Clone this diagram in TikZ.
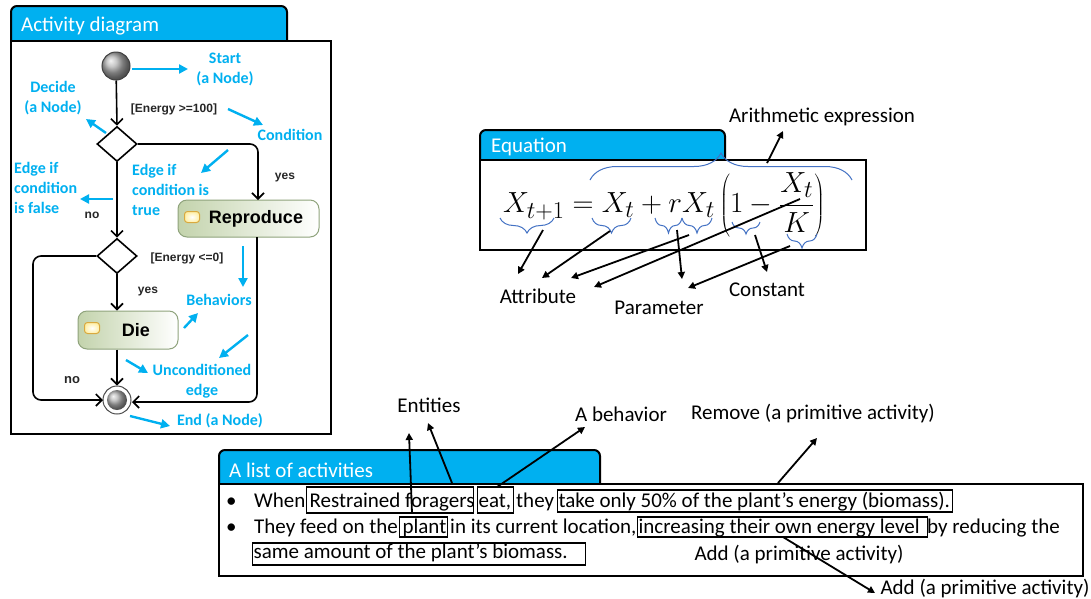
\documentclass[tikz,border=0pt]{standalone}
\usepackage[no-math]{fontspec}
\setmainfont{Carlito}
\newfontfamily\arialfont{Liberation Sans}
\usetikzlibrary{arrows.meta,shapes.geometric,decorations.pathreplacing}
\definecolor{tabblue}{HTML}{00B0F0}
\definecolor{bracblue}{HTML}{4472C4}
\definecolor{activeedge}{HTML}{8FA37C}
\definecolor{activefill}{HTML}{C3D3AC}
\definecolor{iconedge}{HTML}{D9A93F}
\definecolor{iconfill}{HTML}{FFEFA6}
\tikzset{
  tabbox/.style={draw=black,line width=2pt,fill=tabblue,rounded corners=6},
  framebox/.style={draw=black,line width=2pt,fill=white},
  tabtext/.style={anchor=west,inner sep=0pt,text=white,font=\fontsize{21}{24}\selectfont},
  note/.style={inner sep=0pt,align=center,text=black,font=\fontsize{21}{25}\selectfont},
  cyanote/.style={inner sep=0pt,align=center,text=tabblue,font=\fontsize{16}{20}\selectfont\bfseries},
  cyanleft/.style={cyanote,align=left,anchor=west},
  guard/.style={inner sep=0pt,font=\fontsize{12}{14}\selectfont\arialfont\bfseries,text=black!85},
  flow/.style={draw=black,line width=1.6pt,-{Straight Barb[length=6pt,width=12pt]}},
  decide/.style={diamond,draw=black,line width=1.6pt,fill=white,minimum width=40,minimum height=35,inner sep=0pt},
  action/.style={draw=activeedge,line width=1pt,rounded corners=9,left color=activefill,right color=white,font=\fontsize{18}{20}\selectfont\arialfont\bfseries},
  icon/.style={draw=iconedge,line width=1pt,rounded corners=3,inner color=white,outer color=iconfill,minimum width=15,minimum height=11,inner sep=0pt},
  cyanarrow/.style={draw=tabblue,line width=2.4pt,-{Triangle[length=9pt,width=9pt]}},
  blackarrow/.style={draw=black,line width=1.8pt,-{Triangle[length=7pt,width=7pt]}},
  brc/.style={draw=bracblue,line width=1pt,decorate,decoration={brace,amplitude=#1}},
  brcdown/.style={draw=bracblue,line width=1pt,decorate,decoration={brace,mirror,amplitude=#1}},
  listtext/.style={anchor=base west,inner sep=0pt,font=\fontsize{21}{25}\selectfont},
  markbox/.style={draw=black,line width=1.2pt,anchor=west,inner sep=0pt,text depth=4pt,text height=#1,font=\fontsize{21}{25}\selectfont}
}
\begin{document}
\begin{tikzpicture}[x=1pt,y=-1pt]
    \useasboundingbox (0,0) rectangle (1091,598);

    % activity diagram
    \draw[tabbox] (11,41) -- (11,6) -- (287,6) -- (287,41);
    \draw[framebox] (11,41) rectangle (331,434);
    \node[tabtext] (activityTitle) at (21,26) {Activity diagram};

    \shade[ball color=black!30] (116,66) circle (14);
    \node[circle,draw=black!75,line width=1pt,minimum size=28,inner sep=0pt] (start) at (116,66) {};
    \node[decide] (decideOne) at (117,144) {};
    \node[decide] (decideTwo) at (117,256) {};
    \node[action,minimum width=141,minimum height=37] (reproduce) at (248.5,218.5) {\hspace*{15pt}Reproduce};
    \node[action,minimum width=100,minimum height=38] (die) at (128,330) {\hspace*{16pt}Die};
    \node[icon] (reproduceIcon) at (192,217) {};
    \node[icon] (dieIcon) at (92,328) {};
    \node[circle,draw=black!70,line width=1pt,fill=white,minimum size=28,inner sep=0pt] (end) at (117,400) {};
    \shade[ball color=black!30] (117,400) circle (10);

    \coordinate (yesIn) at (258,200);
    \coordinate (yesOut) at (257,237);
    \coordinate (endRight) at (132,402);
    \coordinate (noTop) at (33,256);
    \coordinate (noBottom) at (33,400);
    \coordinate (endLeft) at (103,400);

    \draw[flow] (start) -- (decideOne.north);
    \draw[flow] (decideOne.south) -- (decideTwo.north);
    \draw[flow] (decideTwo.south) -- (die.north -| decideTwo);
    \draw[flow] (die.south -| decideTwo) -- (end.north);
    \draw[flow,rounded corners=8] (decideOne.east) -| (yesIn);
    \draw[flow,rounded corners=8] (yesOut) |- (endRight);
    \draw[flow,rounded corners=8] (decideTwo.west) -- (noTop) -- (noBottom) -- (endLeft);

    \node[guard] (guardHigh) at (174,109) {[Energy >=100]};
    \node[guard] (guardLow) at (187,258) {[Energy <=0]};
    \node[guard] (yesOne) at (285,178) {yes};
    \node[guard] (noOne) at (92,215) {no};
    \node[guard] (yesTwo) at (148,292) {yes};
    \node[guard,font=\fontsize{13}{15}\selectfont\arialfont\bfseries] (noTwo) at (72,380) {no};

    \node[cyanote] (startNote) at (225,69) {Start\\(a Node)};
    \node[cyanote] (decideNote) at (53,98) {Decide\\(a Node)};
    \node[cyanote] (conditionNote) at (290,135) {Condition};
    \node[cyanleft] (trueNote) at (132,190) {Edge if\\condition is\\true};
    \node[cyanleft] (falseNote) at (14,188) {Edge if\\condition\\is false};
    \node[cyanote] (behaviorNote) at (219,300) {Behaviors};
    \node[cyanote] (edgeNote) at (202,381) {Unconditioned\\edge};
    \node[cyanote] (endNote) at (220,421) {End (a Node)};

    \coordinate (c1a) at (132,69); \coordinate (c1b) at (188,69);
    \coordinate (c2a) at (106,133); \coordinate (c2b) at (86,119);
    \coordinate (c3a) at (228,109); \coordinate (c3b) at (263,125);
    \coordinate (c4a) at (228,150); \coordinate (c4b) at (201,173);
    \coordinate (c5a) at (113,199); \coordinate (c5b) at (80,199);
    \coordinate (c6a) at (243,246); \coordinate (c6b) at (243,287);
    \coordinate (c7a) at (184,328); \coordinate (c7b) at (198,313);
    \coordinate (c8a) at (248,335); \coordinate (c8b) at (219,358);
    \coordinate (c9a) at (126,360); \coordinate (c9b) at (148,373);
    \coordinate (c10a) at (130,416); \coordinate (c10b) at (170,426);
    \draw[cyanarrow] (c1a) -- (c1b);
    \draw[cyanarrow] (c2a) -- (c2b);
    \draw[cyanarrow] (c3a) -- (c3b);
    \draw[cyanarrow] (c4a) -- (c4b);
    \draw[cyanarrow] (c5a) -- (c5b);
    \draw[cyanarrow] (c6a) -- (c6b);
    \draw[cyanarrow] (c7a) -- (c7b);
    \draw[cyanarrow] (c8a) -- (c8b);
    \draw[cyanarrow] (c9a) -- (c9b);
    \draw[cyanarrow] (c10a) -- (c10b);

    % equation
    \draw[tabbox] (480,160) -- (480,130) -- (725,130) -- (725,160);
    \draw[framebox] (480,160) rectangle (866,250);
    \node[tabtext] (equationTitle) at (491,147) {Equation};
    \node[inner sep=0pt,scale=1.17,transform shape,font=\fontsize{24.88}{30}\selectfont] (equation) at (664,205)
        {$\displaystyle X_{t+1}=X_t+rX_t\left(1-\frac{X_t}{K}\right)$};

    \draw[brc=27] (590,180) -- (852,180);
    \draw[brcdown=15] (500,218) -- (554,218);
    \draw[brcdown=15] (592,218) -- (631,218);
    \draw[brcdown=15] (655,218) -- (682,218);
    \draw[brcdown=15] (682,218) -- (712,218);
    \draw[brcdown=12] (732,222) -- (760,222);
    \draw[brcdown=14] (787,234) -- (817,234);

    \node[note] (arithNote) at (822,117) {Arithmetic expression};
    \node[note] (attributeNote) at (538,296) {Attribute};
    \node[note] (parameterNote) at (659,308) {Parameter};
    \node[note] (constantNote) at (767,290) {Constant};

    \coordinate (e1a) at (767,163); \coordinate (e1b) at (783,131);
    \coordinate (e2a) at (543,230); \coordinate (e2b) at (518,274);
    \coordinate (e3a) at (610,231); \coordinate (e3b) at (542,278);
    \coordinate (e4a) at (689,235); \coordinate (e4b) at (571,278);
    \coordinate (e5a) at (800,199); \coordinate (e5b) at (594,287);
    \coordinate (e6a) at (677,230); \coordinate (e6b) at (682,279);
    \coordinate (e7a) at (755,235); \coordinate (e7b) at (767,272);
    \coordinate (e8a) at (790,246); \coordinate (e8b) at (688,288);
    \draw[blackarrow] (e1a) -- (e1b);
    \draw[blackarrow] (e2a) -- (e2b);
    \draw[blackarrow] (e3a) -- (e3b);
    \draw[blackarrow] (e4a) -- (e4b);
    \draw[blackarrow] (e5a) -- (e5b);
    \draw[blackarrow] (e6a) -- (e6b);
    \draw[blackarrow] (e7a) -- (e7b);
    \draw[blackarrow] (e8a) -- (e8b);

    % list of activities
    \draw[tabbox] (219,484) -- (219,450) -- (600,450) -- (600,484);
    \draw[framebox] (219,484) rectangle (1083,576);
    \node[tabtext] (listTitle) at (229,470) {A list of activities};

    \node[listtext] (bulletOne) at (226,507) {•};
    \node[listtext] (bulletTwo) at (226,533) {•};
    \node[listtext] (lineOne) at (254,507) {When};
    \node[markbox=18pt,minimum height=26] (foragers) at (306,500) {\makebox[167pt][l]{\hspace*{3pt}Restrained foragers}};
    \node[markbox=18pt,minimum height=26] (eat) at (477,500) {\makebox[36pt][l]{\hspace*{1pt}eat,}};
    \node[listtext] (they) at (516,507) {they};
    \node[markbox=16pt,minimum height=22] (takeOnly) at (557,501) {\makebox[395pt][l]{\hspace*{1pt}take only 50\% of the plant's energy (biomass).}};
    \node[listtext] (lineTwo) at (254,533) {They feed on the};
    \node[markbox=16pt,minimum height=20] (plant) at (399,527) {\makebox[48pt][l]{\hspace*{3pt}plant}};
    \node[listtext] (location) at (450,533) {in its current location,};
    \node[markbox=16pt,minimum height=19] (increase) at (637,527) {\makebox[290pt][l]{\hspace*{1pt}increasing their own energy level}};
    \node[listtext] (reducing) at (927,533) {by reducing the};
    \node[markbox=12pt,minimum height=22] (sameAmount) at (252,554) {\makebox[333pt][l]{\hspace*{1pt}same amount of the plant's biomass.}};

    \node[note] (entitiesNote) at (429,405) {Entities};
    \node[note] (behaviorLabel) at (621,414) {A behavior};
    \node[note] (removeNote) at (813,414) {Remove (a primitive activity)};
    \node[note] (addNote) at (799,554) {Add (a primitive activity)};
    \node[note] (addNoteTwo) at (985,588) {Add (a primitive activity)};

    \coordinate (l1a) at (412,513); \coordinate (l1b) at (409,433);
    \coordinate (l2a) at (452,483); \coordinate (l2b) at (428,423);
    \coordinate (l3a) at (497,487); \coordinate (l3b) at (585,427);
    \coordinate (l4a) at (778,483); \coordinate (l4b) at (817,438);
    \coordinate (l5a) at (783,537); \coordinate (l5b) at (875,593);
    \draw[blackarrow] (l1a) -- (l1b);
    \draw[blackarrow] (l2a) -- (l2b);
    \draw[blackarrow] (l3a) -- (l3b);
    \draw[blackarrow] (l4a) -- (l4b);
    \draw[blackarrow] (l5a) -- (l5b);
\end{tikzpicture}
\end{document}
